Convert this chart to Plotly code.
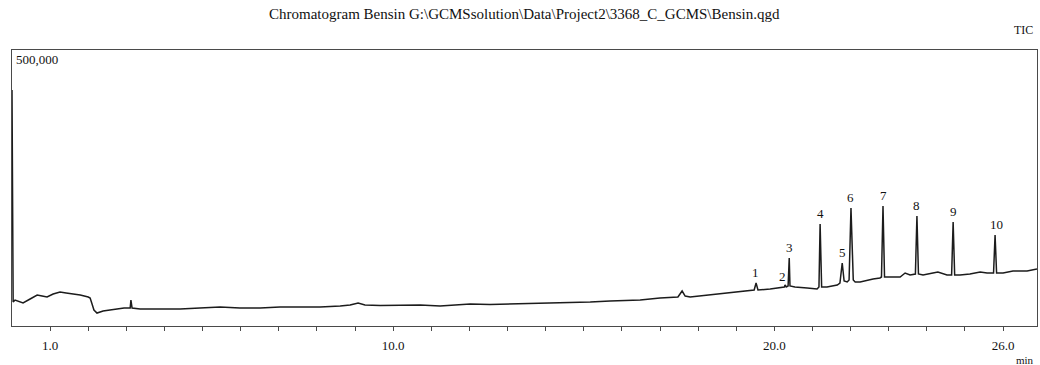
import plotly.graph_objects as go

# Retention time (min) and TIC intensity (counts)
times = [0.00, 0.03, 0.08, 0.16, 0.29, 0.475, 0.66, 0.79, 0.92, 1.08, 1.26, 1.42, 1.60, 1.79, 2.00,
         2.05, 2.10, 2.15, 2.23, 2.31, 2.39, 2.57, 2.76, 2.94, 3.10, 3.12, 3.15, 3.36, 3.89, 4.41,
         4.93, 5.46, 5.98, 6.51, 7.03, 7.56, 8.08, 8.61, 8.87, 9.08, 9.26, 9.66, 10.18, 10.71, 11.23,
         11.76, 12.02, 12.54, 13.33, 14.38, 15.17, 15.69, 16.48, 17.00, 17.47, 17.58, 17.66, 17.79,
         18.31, 18.76, 19.23, 19.47, 19.52, 19.57, 19.89, 20.15, 20.26, 20.28, 20.31, 20.36, 20.39,
         20.41, 20.54, 20.86, 21.12, 21.17, 21.20, 21.24, 21.38, 21.65, 21.72, 21.78, 21.83, 21.91,
         21.96, 22.01, 22.07, 22.12, 22.25, 22.59, 22.77, 22.81, 22.85, 22.89, 23.03, 23.30, 23.43,
         23.56, 23.70, 23.74, 23.78, 23.90, 24.16, 24.29, 24.53, 24.65, 24.69, 24.73, 24.87, 25.13,
         25.40, 25.58, 25.75, 25.79, 25.83, 26.00, 26.26, 26.63, 26.89]
intensity = [427500, 43500, 47100, 45300, 41700, 48900, 56200, 54300, 52500, 58000, 61600, 59800, 58000, 56200, 52500,
             50700, 39900, 29000, 23500, 25400, 27200, 29000, 30800, 32600, 32600, 47100, 32600, 30800, 30800, 30800,
             32600, 34400, 32600, 32600, 34400, 34400, 34400, 36200, 38000, 41700, 38000, 37100, 38000, 38000, 36200,
             38000, 39900, 38900, 39900, 41700, 43500, 45300, 47100, 50700, 52500, 63400, 54300, 52500,
             56200, 59800, 63400, 65200, 77900, 65200, 67000, 68800, 70700, 74300, 70700, 72500, 123200,
             72500, 70700, 68800, 67000, 70700, 184800, 70700, 70700, 74300, 77900, 114100, 81500, 79700,
             83300, 213800, 83300, 79700, 79700, 85100, 87000, 88800, 217400, 88800, 88800, 88800, 96000,
             92400, 94200, 199300, 94200, 92400, 96000, 97800, 92400, 92400, 188400, 92400, 92400, 94200,
             97800, 96000, 96000, 164900, 96000, 96000, 99600, 99600, 103300]

peak_ids = ["1", "2", "3", "4", "5", "6", "7", "8", "9", "10"]
peak_times = [19.50, 20.22, 20.39, 21.20, 21.78, 22.01, 22.85, 23.74, 24.69, 25.84]
peak_tops = [77900, 70700, 123200, 184800, 114100, 213800, 217400, 199300, 188400, 164900]

tick_minutes = list(range(1, 27))
tick_labels = {1: "1.0", 10: "10.0", 20: "20.0", 26: "26.0"}

title_text = "Chromatogram Bensin G:\\GCMSsolution\\Data\\Project2\\3368_C_GCMS\\Bensin.qgd"

SERIF = "Liberation Serif"
AX = "#4a4a4a"

fig = go.Figure()
fig.add_trace(go.Scatter(x=times, y=intensity, mode="lines",
                         line=dict(color="#1c1c1c", width=1.5), hoverinfo="skip",
                         showlegend=False))

annotations = []
for pid, pt, top in zip(peak_ids, peak_times, peak_tops):
    annotations.append(dict(x=pt, y=top, text=pid, showarrow=False, xref="x", yref="y",
                            yanchor="bottom", xanchor="center", yshift=1,
                            font=dict(family=SERIF, size=13, color="#111")))
annotations += [
    dict(x=0.5, y=1.13, xref="paper", yref="paper", text=title_text, showarrow=False,
         xanchor="center", yanchor="middle",
         font=dict(family=SERIF, size=15, color="#111")),
    dict(x=0.998, y=1.072, xref="paper", yref="paper", text="TIC", showarrow=False,
         xanchor="right", yanchor="middle", font=dict(family=SERIF, size=12, color="#111")),
    dict(x=0.988, y=-0.123, xref="paper", yref="paper", text="min", showarrow=False,
         xanchor="center", yanchor="middle", font=dict(family=SERIF, size=11, color="#111")),
    dict(x=0.002, y=0.967, xref="paper", yref="paper", text="500,000", showarrow=False,
         xanchor="left", yanchor="middle", font=dict(family=SERIF, size=13, color="#111")),
]

fig.update_layout(
    width=1040, height=365,
    margin=dict(l=12, r=3, t=50, b=39),
    paper_bgcolor="white", plot_bgcolor="white",
    annotations=annotations,
    xaxis=dict(range=[0, 26.89], showline=True, mirror=True, linecolor=AX, linewidth=1.2,
               ticks="outside", ticklen=4, tickcolor=AX, tickwidth=1,
               tickvals=tick_minutes, ticktext=[tick_labels.get(m, "") for m in tick_minutes],
               ticklabelstandoff=3,
               showgrid=False, zeroline=False,
               tickfont=dict(family=SERIF, size=13, color="#111")),
    yaxis=dict(range=[0, 500000], showline=True, mirror=True, linecolor=AX, linewidth=1.2,
               showticklabels=False, ticks="", showgrid=False, zeroline=False),
)

fig.write_html("out.html", config={"displayModeBar": False},
               post_script="document.body.style.margin='0';document.body.style.padding='0';")
